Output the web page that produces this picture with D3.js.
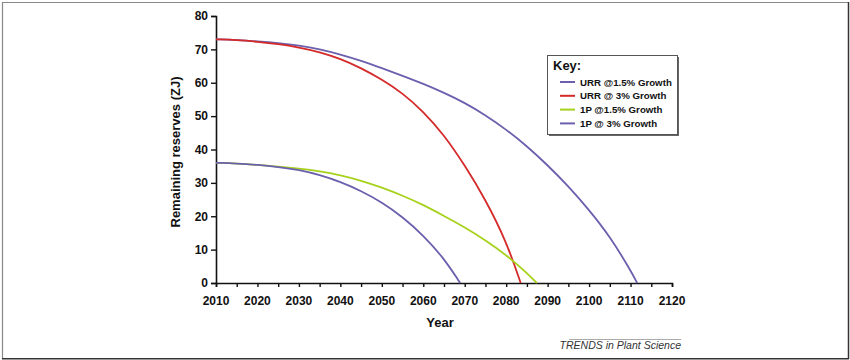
<!DOCTYPE html>
<html>
<head>
<meta charset="utf-8">
<script src="https://cdn.jsdelivr.net/npm/d3@7/dist/d3.min.js"></script>
<style>
  body { margin: 0; background: #fff; }
  text { font-family: "Liberation Sans", Arial, Helvetica, sans-serif; }
</style>
</head>
<body>
<div id="chart"></div>
<script>
let W = 850, H = 360;

// values (remaining reserves, ZJ)
let urr15Years = [2010,2015,2020,2025,2030,2035,2040,2045,2050,2055,2060,2065,2070,2075,2080,2085,2090,2095,2100,2105,2110,2111.6];
let urr15 = [73,72.8,72.4,71.9,71.2,70.1,68.5,66.6,64.4,62.1,59.7,57.0,54.0,50.3,46.0,41.0,35.3,29.0,21.9,14.0,3.8,0];

let urr3Years = [2010,2015,2020,2025,2030,2035,2040,2045,2050,2055,2060,2065,2070,2075,2080,2083.5];
let urr3 = [73,72.8,72.3,71.6,70.6,69.2,67.2,64.4,61.0,56.9,51.4,44.4,35.3,25.0,12.6,0];

let p15Years = [2010,2015,2020,2025,2030,2035,2040,2045,2050,2055,2060,2065,2070,2075,2080,2085,2087.4];
let p15 = [36,35.8,35.4,34.9,34.3,33.5,32.3,30.7,28.6,26.2,23.4,20.1,16.7,12.8,8.4,3.0,0];

let p3Years = [2010,2015,2020,2025,2030,2035,2040,2045,2050,2055,2060,2065,2068.9];
let p3 = [36,35.8,35.4,34.8,33.9,32.4,30.3,27.6,24.2,19.8,14.3,7.4,0];

let seriesNames = ["URR @1.5% Growth", "URR @ 3% Growth", "1P @1.5% Growth", "1P @ 3% Growth"];
let seriesColors = ["#6a60ae", "#d42a2a", "#a6d21c", "#6a60ae"];

let xTicks = [2010,2020,2030,2040,2050,2060,2070,2080,2090,2100,2110,2120];
let xMinor = d3.range(2010, 2121, 5);
let yTicks = [0,10,20,30,40,50,60,70,80];

let series = [
  {name: seriesNames[0], color: seriesColors[0], years: urr15Years, values: urr15},
  {name: seriesNames[1], color: seriesColors[1], years: urr3Years, values: urr3},
  {name: seriesNames[2], color: seriesColors[2], years: p15Years, values: p15},
  {name: seriesNames[3], color: seriesColors[3], years: p3Years, values: p3}
];

let svg = d3.select('#chart')
            .append('svg')
            .attr('width', W)
            .attr('height', H)

// frame
svg.append('line').attr('x1', 2.5).attr('y1', 2).attr('x2', 2.5).attr('y2', 359).attr('stroke', '#888').attr('stroke-width', 1.2)
svg.append('line').attr('x1', 2).attr('y1', 2.5).attr('x2', 849).attr('y2', 2.5).attr('stroke', '#888').attr('stroke-width', 1.2)
svg.append('line').attr('x1', 848.5).attr('y1', 2).attr('x2', 848.5).attr('y2', 359).attr('stroke', '#333').attr('stroke-width', 1.5)
svg.append('line').attr('x1', 2).attr('y1', 358.8).attr('x2', 849).attr('y2', 358.8).attr('stroke', '#333').attr('stroke-width', 1.5)

let x = d3.scaleLinear()
          .domain([2010, 2120])
          .range([216, 672])
let y = d3.scaleLinear()
          .domain([0, 80])
          .range([283, 16])

// x axis: minor ticks every 5 years, labels every 10
let xAxis = svg.append('g')
    .attr('transform', 'translate(0,283)')
    .call(d3.axisBottom(x).tickValues(xMinor).tickSize(4).tickFormat(''))
xAxis.select('.domain').attr('stroke', '#111').attr('stroke-width', 1.6)
xAxis.selectAll('.tick line').attr('stroke', '#111').attr('stroke-width', 1.4)

svg.append('g')
    .selectAll('text')
    .data(xTicks)
    .enter()
    .append('text')
    .attr('x', d => x(d))
    .attr('y', 305)
    .attr('text-anchor', 'middle')
    .style('font-size', '12px')
    .style('font-weight', 'bold')
    .attr('fill', '#111')
    .text(d => d)

let yAxis = svg.append('g')
    .attr('transform', 'translate(216,0)')
    .call(d3.axisLeft(y).tickValues(yTicks).tickSize(5).tickPadding(3))
yAxis.select('.domain').attr('stroke', '#111').attr('stroke-width', 1.6)
yAxis.selectAll('.tick line').attr('stroke', '#111').attr('stroke-width', 1.4)
yAxis.selectAll('.tick text')
    .style('font-size', '12px')
    .style('font-weight', 'bold')
    .style('font-family', '"Liberation Sans", Arial, sans-serif')
    .attr('fill', '#111')

// axis titles
svg.append('text')
    .attr('x', 440)
    .attr('y', 327)
    .attr('text-anchor', 'middle')
    .style('font-size', '13px')
    .style('font-weight', 'bold')
    .attr('fill', '#111')
    .text('Year')

svg.append('text')
    .attr('transform', 'translate(180,152) rotate(-90)')
    .attr('text-anchor', 'middle')
    .style('font-size', '13px')
    .style('font-weight', 'bold')
    .attr('fill', '#111')
    .text('Remaining reserves (ZJ)')

// curves
let line = d3.line()
    .x(d => x(d[0]))
    .y(d => y(d[1]))
    .curve(d3.curveBasis)

svg.append('g')
    .selectAll('path')
    .data(series)
    .enter()
    .append('path')
    .attr('d', d => line(d.years.map((yr, i) => [yr, d.values[i]])))
    .attr('fill', 'none')
    .attr('stroke', d => d.color)
    .attr('stroke-width', 1.8)

// legend
let legend = svg.append('g')
legend.append('rect')
    .attr('x', 549).attr('y', 57).attr('width', 130).attr('height', 79)
    .attr('fill', '#666')
legend.append('rect')
    .attr('x', 547.5).attr('y', 55.5).attr('width', 130).attr('height', 79)
    .attr('fill', '#fff').attr('stroke', '#555').attr('stroke-width', 1)
legend.append('text')
    .attr('x', 553).attr('y', 70)
    .style('font-size', '13px')
    .style('font-weight', 'bold')
    .attr('fill', '#111')
    .text('Key:')

let rows = legend.selectAll('.row')
    .data(series)
    .enter()
    .append('g')
    .attr('transform', (d, i) => 'translate(0,' + (82 + i * 13.8) + ')')
rows.append('line')
    .attr('x1', 560).attr('x2', 575).attr('y1', 0).attr('y2', 0)
    .attr('stroke', d => d.color).attr('stroke-width', 2)
rows.append('text')
    .attr('x', 580).attr('y', 3.5)
    .style('font-size', '9.7px')
    .style('font-weight', 'bold')
    .attr('fill', '#111')
    .text(d => d.name)

// source credit
svg.append('line')
    .attr('x1', 569).attr('x2', 681).attr('y1', 339.5).attr('y2', 339.5)
    .attr('stroke', '#aaa').attr('stroke-width', 1)
svg.append('text')
    .attr('x', 681).attr('y', 349)
    .attr('text-anchor', 'end')
    .style('font-size', '10.5px')
    .style('font-style', 'italic')
    .attr('fill', '#333')
    .text('TRENDS in Plant Science')
</script>
</body>
</html>
